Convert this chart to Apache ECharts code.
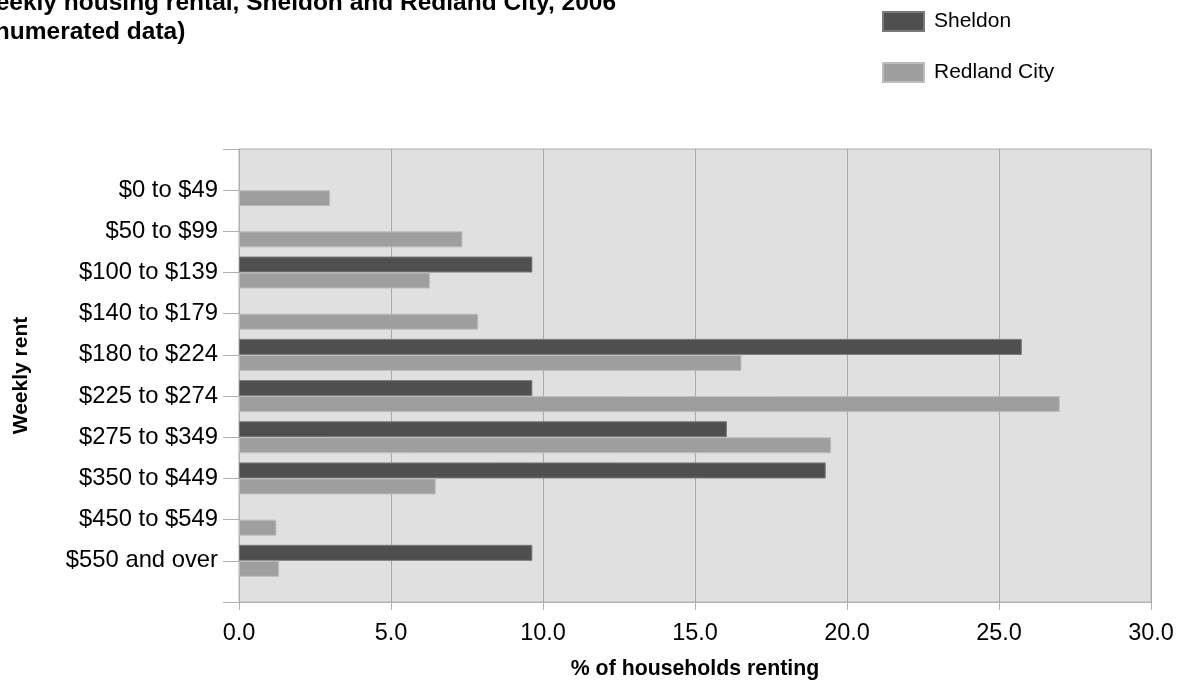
<!DOCTYPE html>
<html>
<head>
<meta charset="utf-8">
<script src="https://cdn.jsdelivr.net/npm/echarts@6/dist/echarts.min.js"></script>
<style>
html,body{margin:0;padding:0;background:#fff;}
#chart{width:1184px;height:686px;}
</style>
</head>
<body>
<div id="chart"></div>
<script>
var categories = ['$0 to $49', '$50 to $99', '$100 to $139', '$140 to $179', '$180 to $224',
  '$225 to $274', '$275 to $349', '$350 to $449', '$450 to $549', '$550 and over'];
var sheldon = [0, 0, 9.65, 0, 25.75, 9.65, 16.05, 19.3, 0, 9.65];
var redland = [3.0, 7.35, 6.28, 7.87, 16.53, 27.0, 19.48, 6.47, 1.23, 1.32];
var xTicks = [0, 5, 10, 15, 20, 25, 30];

var FONT = '"Liberation Sans", Arial, sans-serif';
// pad one empty slot above and below the categories (axis runs a full step beyond)
var axisCats = [''].concat(categories, ['']);
// zero shares draw no bar at all in the original
function pad(arr) {
  return [null].concat(arr.map(function (v) { return v === 0 ? null : v; }), [null]);
}

var chart = echarts.init(document.getElementById('chart'), null, {renderer: 'canvas'});
chart.setOption({
  animation: false,
  backgroundColor: '#ffffff',
  textStyle: {fontFamily: FONT, color: '#000'},
  title: {
    text: 'Weekly housing rental, Sheldon and Redland City, 2006\n(enumerated data)',
    left: -32, top: -16,
    textStyle: {fontFamily: FONT, fontSize: 24.5, fontWeight: 'bold', color: '#000', lineHeight: 29}
  },
  legend: {
    orient: 'vertical', left: 877, top: 6,
    itemWidth: 41, itemHeight: 19, itemGap: 30,
    icon: 'rect',
    data: ['Sheldon', 'Redland City'],
    textStyle: {fontFamily: FONT, fontSize: 21, color: '#000', padding: [0, 0, 0, 5]}
  },
  grid: {
    left: 239, right: 33, top: 149, bottom: 84,
    show: true, backgroundColor: '#e0e0e0', borderColor: '#b0b0b0', borderWidth: 1
  },
  xAxis: {
    type: 'value', min: xTicks[0], max: xTicks[xTicks.length - 1], interval: xTicks[1] - xTicks[0],
    name: '% of households renting', nameLocation: 'middle', nameGap: 57,
    nameTextStyle: {fontFamily: FONT, fontSize: 21.3, fontWeight: 'bold', color: '#000'},
    axisLine: {show: true, lineStyle: {color: '#b0b0b0'}},
    axisTick: {show: true, length: 8, lineStyle: {color: '#b0b0b0'}},
    axisLabel: {fontFamily: FONT, fontSize: 23.5, color: '#000', margin: 20,
      formatter: function (v) { return v.toFixed(1); }},
    splitLine: {show: true, lineStyle: {color: '#a8a8a8', width: 1}}
  },
  yAxis: {
    type: 'category', data: axisCats, inverse: true, boundaryGap: false,
    name: 'Weekly rent', nameLocation: 'middle', nameGap: 207, nameRotate: 90,
    nameTextStyle: {fontFamily: FONT, fontSize: 21, fontWeight: 'bold', color: '#000'},
    axisLine: {show: true, lineStyle: {color: '#b0b0b0'}},
    axisTick: {show: true, length: 16, alignWithLabel: true, interval: 0, lineStyle: {color: '#b0b0b0'}},
    axisLabel: {fontFamily: FONT, fontSize: 23.8, color: '#000', margin: 21, interval: 0},
    splitLine: {show: false}
  },
  series: [
    {
      name: 'Sheldon', type: 'bar', data: pad(sheldon),
      barWidth: 16, barGap: '0%',
      itemStyle: {color: '#4f4f4f', borderColor: '#7a7a7a', borderWidth: 1}
    },
    {
      name: 'Redland City', type: 'bar', data: pad(redland),
      barWidth: 16, barGap: '0%',
      itemStyle: {color: '#9e9e9e', borderColor: '#bdbdbd', borderWidth: 1}
    }
  ]
});
</script>
</body>
</html>
